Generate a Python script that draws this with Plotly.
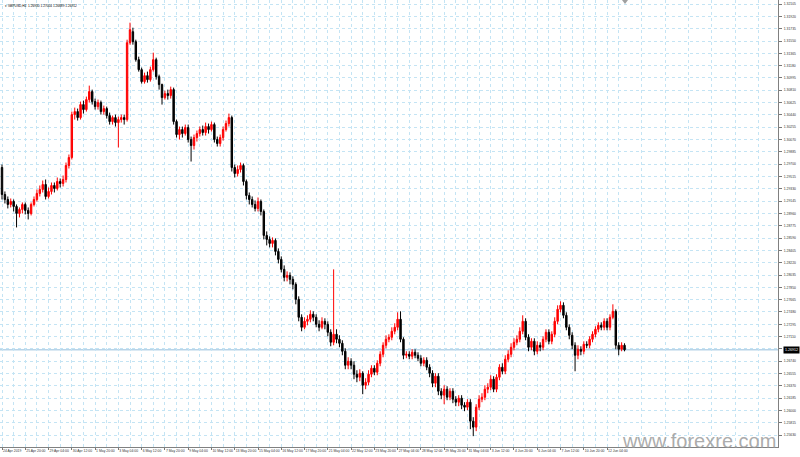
import plotly.graph_objects as go

# ---- data: GBPUSD H4, 24 Apr 2019 12:00 .. 13 Jun 2019 ----
open_ = [1.29650,1.29245,1.29170,1.29095,1.29140,1.29065,1.28960,1.29020,1.29095,1.29005,
1.28960,1.29095,1.29170,1.29260,1.29320,1.29395,1.29215,1.29290,1.29380,1.29335,
1.29440,1.29410,1.29470,1.29680,1.29800,1.30445,1.30490,1.30400,1.30595,1.30520,
1.30670,1.30790,1.30640,1.30565,1.30625,1.30490,1.30535,1.30430,1.30340,1.30400,
1.30325,1.30370,1.30400,1.30370,1.31525,1.31690,1.31540,1.31270,1.31120,1.30940,
1.31030,1.30970,1.31120,1.31270,1.31015,1.30895,1.30700,1.30760,1.30730,1.30820,
1.30340,1.30145,1.30220,1.30160,1.30250,1.30070,1.29980,1.30100,1.30160,1.30220,
1.30175,1.30265,1.30220,1.30295,1.30070,1.30010,1.30100,1.30220,1.30310,1.30400,
1.29650,1.29560,1.29620,1.29680,1.29440,1.29230,1.29170,1.29095,1.29035,1.29140,
1.28990,1.28630,1.28570,1.28510,1.28555,1.28390,1.28270,1.28120,1.28000,1.28030,
1.27970,1.27895,1.27670,1.27400,1.27250,1.27340,1.27370,1.27445,1.27400,1.27295,
1.27250,1.27340,1.27295,1.27175,1.27025,1.27145,1.27070,1.27010,1.26890,1.26680,
1.26740,1.26680,1.26545,1.26500,1.26560,1.26380,1.26425,1.26545,1.26635,1.26575,
1.26710,1.26845,1.26980,1.27070,1.27100,1.27190,1.27250,1.27370,1.27070,1.26830,
1.26845,1.26815,1.26875,1.26830,1.26785,1.26710,1.26755,1.26650,1.26560,1.26410,
1.26515,1.26290,1.26230,1.26320,1.26200,1.26290,1.26170,1.26125,1.26185,1.26080,
1.26050,1.26125,1.25840,1.25750,1.26050,1.26170,1.26200,1.26320,1.26350,1.26470,
1.26320,1.26500,1.26650,1.26590,1.26770,1.26845,1.26950,1.27025,1.27070,1.27190,
1.27340,1.27100,1.26950,1.27040,1.26890,1.26980,1.26950,1.27070,1.27175,1.27040,
1.27145,1.27340,1.27520,1.27580,1.27430,1.27250,1.27130,1.26980,1.26830,1.26920,
1.26890,1.26995,1.26980,1.27070,1.27145,1.27220,1.27280,1.27250,1.27340,1.27250,
1.27400,1.27490,1.26980,1.26920,1.26980]
high_ = [1.29695,1.29290,1.29215,1.29185,1.29170,1.29095,1.29050,1.29125,1.29125,1.29050,
1.29125,1.29215,1.29320,1.29380,1.29455,1.29470,1.29350,1.29425,1.29425,1.29500,
1.29485,1.29530,1.29725,1.29845,1.30490,1.30550,1.30535,1.30640,1.30655,1.30715,
1.30880,1.30820,1.30685,1.30670,1.30655,1.30580,1.30565,1.30475,1.30430,1.30445,
1.30415,1.30445,1.30445,1.31570,1.31825,1.31750,1.31570,1.31315,1.31150,1.31075,
1.31090,1.31165,1.31375,1.31300,1.31045,1.30910,1.30805,1.30820,1.30865,1.30850,
1.30370,1.30265,1.30265,1.30295,1.30295,1.30115,1.30145,1.30205,1.30265,1.30280,
1.30325,1.30310,1.30340,1.30325,1.30115,1.30145,1.30265,1.30355,1.30460,1.30430,
1.29695,1.29680,1.29725,1.29710,1.29470,1.29275,1.29215,1.29155,1.29200,1.29170,
1.29020,1.28690,1.28615,1.28600,1.28585,1.28435,1.28315,1.28180,1.28090,1.28075,
1.28015,1.27925,1.27715,1.27445,1.27400,1.27430,1.27505,1.27490,1.27445,1.27355,
1.27400,1.27385,1.27340,1.27220,1.28120,1.27220,1.27130,1.27055,1.26935,1.26800,
1.26785,1.26740,1.26605,1.26620,1.26590,1.26485,1.26605,1.26680,1.26680,1.26755,
1.26890,1.27025,1.27130,1.27145,1.27250,1.27310,1.27475,1.27490,1.27100,1.26890,
1.26890,1.26920,1.26920,1.26875,1.26830,1.26800,1.26800,1.26695,1.26605,1.26560,
1.26560,1.26335,1.26380,1.26365,1.26335,1.26335,1.26215,1.26230,1.26230,1.26125,
1.26170,1.26170,1.25900,1.26095,1.26230,1.26260,1.26380,1.26410,1.26530,1.26515,
1.26545,1.26695,1.26710,1.26830,1.26905,1.27010,1.27085,1.27130,1.27250,1.27430,
1.27385,1.27145,1.27085,1.27085,1.27040,1.27025,1.27115,1.27220,1.27220,1.27190,
1.27400,1.27580,1.27640,1.27625,1.27475,1.27295,1.27175,1.27025,1.26980,1.26965,
1.27040,1.27040,1.27115,1.27190,1.27265,1.27325,1.27325,1.27385,1.27385,1.27445,
1.27595,1.27520,1.27025,1.27025,1.27010]
low_ = [1.29170,1.29110,1.29035,1.29050,1.28990,1.28750,1.28900,1.28960,1.28945,1.28870,
1.28930,1.29065,1.29140,1.29215,1.29275,1.29170,1.29185,1.29245,1.29275,1.29305,
1.29350,1.29365,1.29425,1.29635,1.29770,1.30370,1.30355,1.30370,1.30460,1.30490,
1.30625,1.30595,1.30520,1.30520,1.30445,1.30445,1.30385,1.30295,1.30295,1.30265,
1.29950,1.30325,1.30295,1.30340,1.31495,1.31495,1.31240,1.31090,1.30910,1.30910,
1.30925,1.30940,1.31090,1.30970,1.30820,1.30595,1.30670,1.30670,1.30685,1.30295,
1.30100,1.30070,1.30100,1.30130,1.30025,1.29740,1.29920,1.30040,1.30115,1.30130,
1.30130,1.30160,1.30190,1.30025,1.29965,1.29965,1.30055,1.30190,1.30265,1.29590,
1.29500,1.29515,1.29575,1.29380,1.29170,1.29095,1.29050,1.28990,1.28990,1.28930,
1.28570,1.28480,1.28450,1.28450,1.28330,1.28210,1.28075,1.27940,1.27940,1.27895,
1.27820,1.27595,1.27340,1.27190,1.27220,1.27280,1.27325,1.27340,1.27250,1.27190,
1.27220,1.27220,1.27115,1.26965,1.26980,1.27010,1.26950,1.26830,1.26620,1.26620,
1.26620,1.26470,1.26425,1.26440,1.26245,1.26320,1.26380,1.26500,1.26530,1.26530,
1.26665,1.26800,1.26935,1.27025,1.27055,1.27145,1.27205,1.27025,1.26770,1.26785,
1.26770,1.26770,1.26785,1.26740,1.26665,1.26665,1.26605,1.26500,1.26350,1.26350,
1.26230,1.26170,1.26095,1.26155,1.26155,1.26110,1.26065,1.26065,1.26020,1.25990,
1.26005,1.25720,1.25615,1.25690,1.26005,1.26125,1.26155,1.26260,1.26305,1.26275,
1.26275,1.26455,1.26545,1.26545,1.26725,1.26800,1.26905,1.26980,1.27025,1.27145,
1.27055,1.26890,1.26905,1.26830,1.26845,1.26890,1.26905,1.27025,1.26995,1.26995,
1.27100,1.27295,1.27475,1.27385,1.27205,1.27070,1.26920,1.26590,1.26770,1.26830,
1.26845,1.26935,1.26935,1.27025,1.27100,1.27175,1.27205,1.27205,1.27205,1.27205,
1.27370,1.26920,1.26830,1.26890,1.26889]
close_ = [1.29245,1.29170,1.29095,1.29140,1.29065,1.28960,1.29020,1.29095,1.29005,1.28960,
1.29095,1.29170,1.29260,1.29320,1.29395,1.29215,1.29290,1.29380,1.29335,1.29440,
1.29410,1.29470,1.29680,1.29800,1.30445,1.30490,1.30400,1.30595,1.30520,1.30670,
1.30790,1.30640,1.30565,1.30625,1.30490,1.30535,1.30430,1.30340,1.30400,1.30325,
1.30370,1.30400,1.30370,1.31525,1.31720,1.31540,1.31270,1.31120,1.30940,1.31030,
1.30970,1.31120,1.31270,1.31015,1.30895,1.30700,1.30760,1.30730,1.30820,1.30340,
1.30145,1.30220,1.30160,1.30250,1.30070,1.29980,1.30100,1.30160,1.30220,1.30175,
1.30265,1.30220,1.30295,1.30070,1.30010,1.30100,1.30220,1.30310,1.30400,1.29650,
1.29560,1.29620,1.29680,1.29440,1.29230,1.29170,1.29095,1.29035,1.29140,1.28990,
1.28630,1.28570,1.28510,1.28555,1.28390,1.28270,1.28120,1.28000,1.28030,1.27970,
1.27895,1.27670,1.27400,1.27250,1.27340,1.27370,1.27445,1.27400,1.27295,1.27250,
1.27340,1.27295,1.27175,1.27025,1.27145,1.27070,1.27010,1.26890,1.26680,1.26740,
1.26680,1.26545,1.26500,1.26560,1.26380,1.26425,1.26545,1.26635,1.26575,1.26710,
1.26845,1.26980,1.27070,1.27100,1.27190,1.27250,1.27370,1.27070,1.26830,1.26845,
1.26815,1.26875,1.26830,1.26785,1.26710,1.26755,1.26650,1.26560,1.26410,1.26515,
1.26290,1.26230,1.26320,1.26200,1.26290,1.26170,1.26125,1.26185,1.26080,1.26050,
1.26125,1.25840,1.25750,1.26050,1.26170,1.26200,1.26320,1.26350,1.26470,1.26320,
1.26500,1.26650,1.26590,1.26770,1.26845,1.26950,1.27025,1.27070,1.27190,1.27340,
1.27100,1.26950,1.27040,1.26890,1.26980,1.26950,1.27070,1.27175,1.27040,1.27145,
1.27340,1.27520,1.27580,1.27430,1.27250,1.27130,1.26980,1.26830,1.26920,1.26890,
1.26995,1.26980,1.27070,1.27145,1.27220,1.27280,1.27250,1.27340,1.27250,1.27400,
1.27490,1.26980,1.26920,1.26980,1.26912]
bars = list(range(len(close_)))

time_ticks = list(range(0, 209, 8))
time_labels = ["24 Apr 2019","25 Apr 20:00","29 Apr 04:00","30 Apr 12:00","1 May 20:00",
"3 May 04:00","6 May 12:00","7 May 20:00","9 May 04:00","10 May 12:00","13 May 20:00",
"15 May 04:00","16 May 12:00","17 May 20:00","21 May 04:00","22 May 12:00","23 May 20:00",
"27 May 04:00","28 May 12:00","29 May 20:00","31 May 04:00","3 Jun 12:00","4 Jun 20:00",
"6 Jun 04:00","7 Jun 12:00","10 Jun 20:00","12 Jun 04:00"]
grid_bars = list(range(4, 268, 8))
price_ticks = [1.32105,1.31920,1.31735,1.31550,1.31365,1.31180,1.30995,1.30810,1.30625,1.30440,
1.30255,1.30070,1.29885,1.29700,1.29515,1.29330,1.29145,1.28960,1.28775,1.28590,
1.28405,1.28220,1.28035,1.27850,1.27665,1.27480,1.27295,1.27110,1.26925,1.26740,
1.26555,1.26370,1.26185,1.26000,1.25815,1.25630,1.25445]
last_price = 1.26912
title_text = "GBPUSD,H4  1.26930 1.27004 1.26889 1.26912"

# the last-price box hides the scale label it covers
tick_text = ["" if abs(v - last_price) < 0.0009 else f"{v:.5f}" for v in price_ticks]

grid_col = "#c4e4f4"
fig = go.Figure()
fig.add_trace(go.Candlestick(
    x=bars, open=open_, high=high_, low=low_, close=close_,
    increasing=dict(line=dict(color="#ff0000", width=1), fillcolor="#ff0000"),
    decreasing=dict(line=dict(color="#000000", width=1), fillcolor="#000000"),
    whiskerwidth=0, showlegend=False, hoverinfo="skip"))

fig.add_hline(y=last_price, line=dict(color="#b8d4e8", width=1.5), layer="below")

fig.update_layout(
    width=800, height=457, margin=dict(l=0, r=22, t=0, b=10),
    paper_bgcolor="white", plot_bgcolor="white", hovermode=False,
    font=dict(family="Liberation Sans, Arial", size=3.4, color="#333333"),
    xaxis=dict(range=[-0.69, 266.76], tickmode="array", tickvals=time_ticks, ticktext=time_labels,
               tickangle=0, ticks="outside", ticklen=2, tickcolor="#777",
               ticklabelposition="outside right", tickfont=dict(size=3.4),
               showgrid=True, gridcolor=grid_col, griddash="dot", gridwidth=1,
               minor=dict(tickvals=grid_bars, showgrid=True, gridcolor=grid_col,
                          griddash="dot", ticks=""),
               showline=True, linecolor="#808080", linewidth=1, zeroline=False,
               rangeslider=dict(visible=False), fixedrange=True, automargin=False),
    yaxis=dict(side="right", range=[1.25452, 1.32166], tickmode="array", tickvals=price_ticks,
               ticktext=tick_text, tickfont=dict(size=3.4),
               ticks="outside", ticklen=3, tickcolor="#777", ticklabelstandoff=1,
               showgrid=True, gridcolor=grid_col, griddash="dot", gridwidth=1,
               showline=True, linecolor="#808080", linewidth=1, mirror=True,
               zeroline=False, automargin=False, fixedrange=True),
)

fig.add_annotation(x=1, xref="paper", y=last_price, yref="y", text=f"{last_price:.5f}",
                   showarrow=False, xanchor="left", xshift=5, bgcolor="black",
                   font=dict(color="white", size=3.6), borderpad=1)
fig.add_annotation(x=0.004, xref="paper", y=0.996, yref="paper", text="▾ " + title_text,
                   showarrow=False, xanchor="left", yanchor="top",
                   font=dict(color="black", size=3.2))
fig.add_annotation(x=778 / 778, xref="paper", y=-7 / 447, yref="paper", text="www.forexre.com",
                   showarrow=False, xanchor="right", yanchor="bottom",
                   font=dict(color="rgba(150,150,150,0.8)", size=20, family="Liberation Sans, Arial"))
fig.add_shape(type="path", xref="paper", yref="paper",
              path=f"M {622/778} 1 L {628/778} 1 L {625/778} {1-4/447} Z",
              fillcolor="#a0a0a0", line=dict(width=0))

fig.write_html("out.html", config={"displayModeBar": False, "staticPlot": True},
               post_script="document.body.style.margin='0px';")
